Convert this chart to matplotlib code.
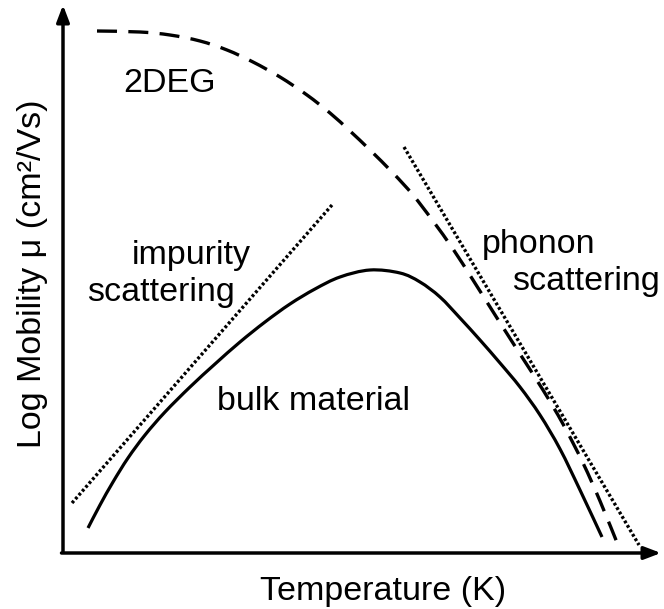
import matplotlib.pyplot as plt
import numpy as np
from matplotlib.path import Path
from matplotlib.patches import PathPatch

plt.rcParams['font.family'] = ['Liberation Sans', 'DejaVu Sans']

# schematic curves (pixel units from the axis corner)
ox, oy = 63, 553

bulk_px = [(88, 528), (100, 505), (113, 482), (128, 458), (145, 435), (165, 412),
           (190, 387), (215, 364), (240, 342), (265, 322), (290, 304), (315, 289),
           (340, 277), (370, 270), (400, 273), (420, 282), (440, 297), (460, 318),
           (480, 340), (500, 363), (520, 387), (540, 415), (560, 449), (580, 490),
           (602, 537)]
deg_px = [(97, 31), (140, 32), (170, 35), (200, 41), (227, 50), (253, 62), (280, 77),
          (307, 95), (330, 113), (350, 131), (370, 150), (393, 173), (413, 195),
          (433, 221), (453, 249), (473, 280), (497, 318), (520, 354), (543, 390),
          (563, 424), (583, 463), (600, 501), (618, 545)]
impurity_px = [(72, 503), (332, 205)]
phonon_px = [(404, 147), (639, 545)]


def to_data(pts):
    pts = np.array(pts, dtype=float)
    return np.column_stack([pts[:, 0] - ox, oy - pts[:, 1]])


def smooth_path(p):
    # catmull-rom through the points, drawn as cubic bezier segments
    verts = [p[0]]
    codes = [Path.MOVETO]
    n = len(p)
    for i in range(n - 1):
        p0 = p[i - 1] if i > 0 else p[i]
        p1, p2 = p[i], p[i + 1]
        p3 = p[i + 2] if i + 2 < n else p[i + 1]
        c1 = p1 + (p2 - p0) / 6
        c2 = p2 - (p3 - p1) / 6
        verts += [c1, c2, p2]
        codes += [Path.CURVE4] * 3
    return Path(verts, codes)


fig = plt.figure(figsize=(6.64, 6.09), dpi=100)
ax = fig.add_axes([0, 0, 1, 1])
ax.set_xlim(-ox, 664 - ox)
ax.set_ylim(oy - 609, oy)
ax.axis('off')

# axes with arrows
arrow = dict(arrowstyle='-|>,head_length=1.0,head_width=0.38', lw=2.5, color='black',
             shrinkA=0, shrinkB=0)
ax.annotate('', xy=(661 - ox, 0), xytext=(-1.5, 0), arrowprops=arrow)
ax.annotate('', xy=(0, oy - 5), xytext=(0, 1.5), arrowprops=arrow)

ax.add_patch(PathPatch(smooth_path(to_data(bulk_px)), fill=False, lw=2.3,
                       edgecolor='black', capstyle='butt'))
ax.add_patch(PathPatch(smooth_path(to_data(deg_px)), fill=False, lw=2.4,
                       edgecolor='black', linestyle=(0, (6, 3.4)), capstyle='butt'))
for seg in (impurity_px, phonon_px):
    xy = to_data(seg)
    ax.plot(xy[:, 0], xy[:, 1], color='black', lw=2.4, dashes=(0.85, 0.7))

fs = 24.5
def label(s, px, py, **kw):
    ax.text(px - ox, oy - py, s, fontsize=fs, ha='left', va='baseline', **kw)

label('2DEG', 123, 92)
label('impurity', 132, 264)
label('scattering', 87, 301)
label('phonon', 482, 253)
label('scattering', 512, 290)
label('bulk material', 217, 410)
label('Temperature (K)', 260, 600)
ax.text(33 - ox, oy - 274, 'Log Mobility μ (cm²/Vs)', fontsize=fs, rotation=90,
        ha='center', va='center')

plt.savefig('out.png', dpi=100)
